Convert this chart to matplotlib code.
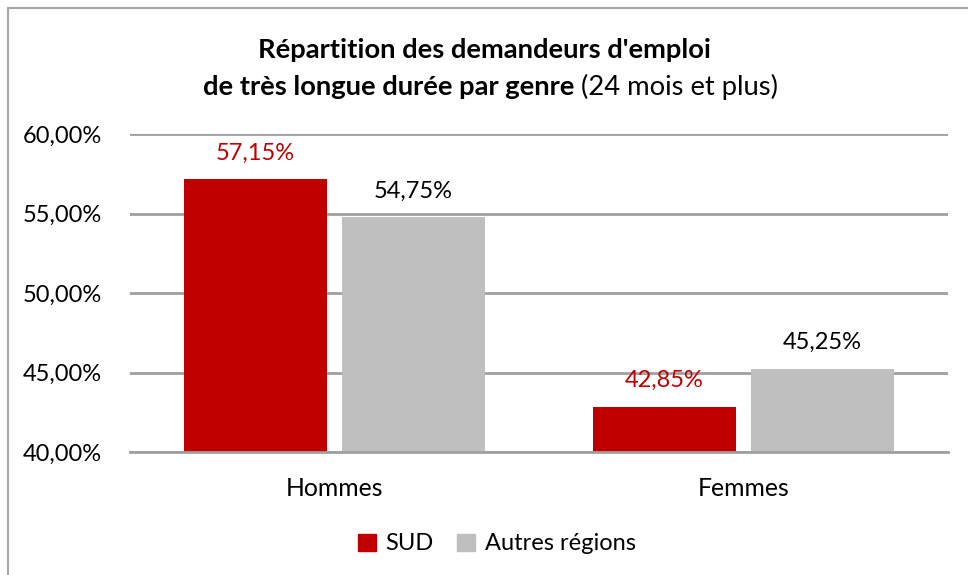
import matplotlib
matplotlib.use("Agg")
import matplotlib.pyplot as plt
from matplotlib.patches import Rectangle, Patch
import numpy as np

categories = ["Hommes", "Femmes"]
sud_values = [57.15, 42.85]
autres_values = [54.75, 45.25]
series_names = ["SUD", "Autres régions"]
y_ticks = [40, 45, 50, 55, 60]

RED = "#C00000"
GREY = "#BFBFBF"
GRID = "#A0A0A0"
LABEL_FONT = ["Lato", "DejaVu Sans"]


def fmt(v):
    return ("%.2f%%" % v).replace(".", ",")


W, H = 968, 575
fig = plt.figure(figsize=(W / 100, H / 100), dpi=100)
ax = fig.add_axes([130 / W, (H - 452) / H, (948 - 130) / W, (452 - 134) / H])

x = np.arange(len(categories))
width = 0.35
off = width / 2 + 0.0185
b1 = ax.bar(x - off, sud_values, width, color=RED, label=series_names[0], zorder=3)
b2 = ax.bar(x + off, autres_values, width, color=GREY, label=series_names[1], zorder=3)

for bars, vals, col in [(b1, sud_values, RED), (b2, autres_values, "black")]:
    for rect, v in zip(bars, vals):
        ax.annotate(fmt(v), (rect.get_x() + rect.get_width() / 2, v),
                    xytext=(0, 19), textcoords="offset points",
                    ha="center", va="center", color=col, fontsize=17,
                    family=LABEL_FONT)

ax.set_xlim(-0.5, 1.5)
ax.set_ylim(40, 60)
ax.set_yticks(y_ticks)
ax.set_yticklabels([fmt(t) for t in y_ticks])
for lbl in ax.get_yticklabels():
    lbl.set_fontfamily(LABEL_FONT)
    lbl.set_fontsize(17)
ax.set_xticks(x)
ax.set_xticklabels(categories, family=LABEL_FONT, fontsize=17.8)
ax.tick_params(axis="both", length=0)
ax.tick_params(axis="y", pad=20)
ax.tick_params(axis="x", pad=18)
ax.yaxis.grid(True, color=GRID, linewidth=2, zorder=0)
for s in ["top", "right", "left"]:
    ax.spines[s].set_visible(False)
ax.spines["bottom"].set_color(GRID)
ax.spines["bottom"].set_linewidth(2)
ax.spines["bottom"].set_zorder(4)

# title
fig.text(0.5, 1 - 50 / H, "Répartition des demandeurs d'emploi", ha="center", va="center",
         fontsize=19.7, fontweight="bold", family=LABEL_FONT)
t1 = fig.text(0.5, 1 - 87 / H, "de très longue durée par genre ", ha="right", va="center",
              fontsize=19.7, fontweight="bold", family=LABEL_FONT)
t2 = fig.text(0.5, 1 - 87 / H, "(24 mois et plus)", ha="left", va="center",
              fontsize=19.7, family=LABEL_FONT)
fig.canvas.draw()
r = fig.canvas.get_renderer()
w1 = t1.get_window_extent(r).width
w2 = t2.get_window_extent(r).width
cx = (200 + 781) / 2
t1.set_x((cx - (w1 + w2) / 2 + w1) / W)
t2.set_x((cx - (w1 + w2) / 2 + w1) / W)

handles = [Patch(color=RED), Patch(color=GREY)]
fig.legend(handles, series_names, loc="center", bbox_to_anchor=(497 / W, 1 - 544 / H),
           ncol=2, frameon=False, prop={"family": LABEL_FONT, "size": 17},
           handlelength=0.75, handleheight=0.75, handletextpad=0.4, columnspacing=1.0)

# chart frame (left and top edges visible)
fig.add_artist(Rectangle((7.5 / W, -0.1), 1.2, 1.1 - 8 / H,
                         transform=fig.transFigure, fill=False,
                         edgecolor="#A6A6A6", linewidth=1.5))

fig.savefig("out.png", dpi=100)
